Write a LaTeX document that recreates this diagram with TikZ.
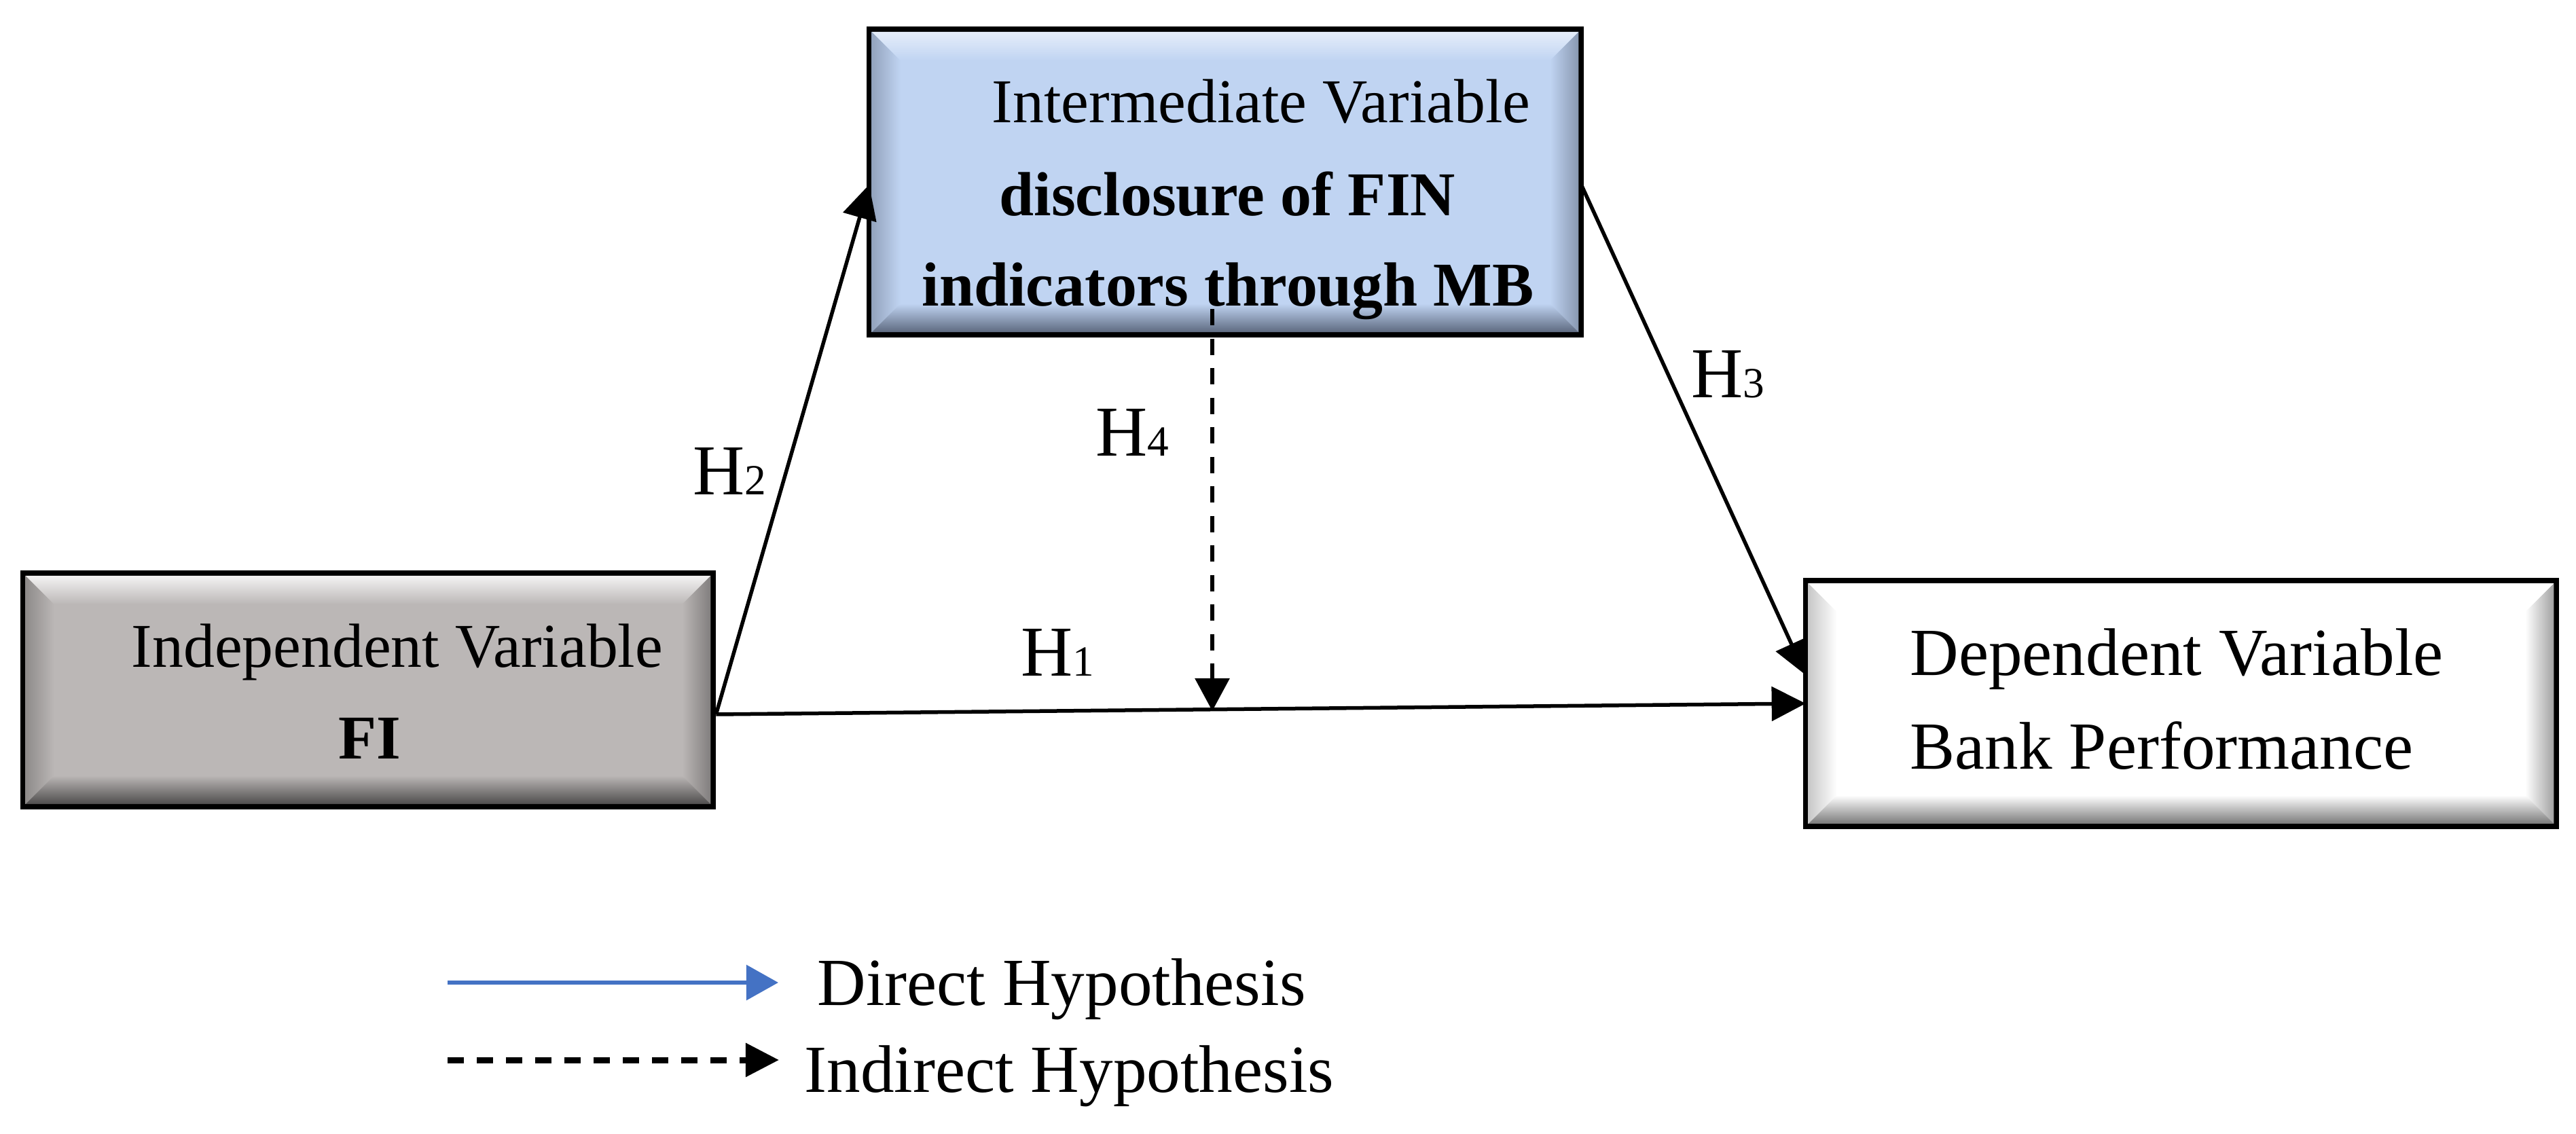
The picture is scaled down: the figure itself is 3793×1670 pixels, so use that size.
\documentclass[tikz,border=0pt]{standalone}
\usepackage{fontspec}
\setmainfont{Liberation Serif}
\usetikzlibrary{arrows.meta,calc}

\definecolor{grayfill}{HTML}{BBB7B6}
\definecolor{graylight}{HTML}{F4F3F3}
\definecolor{grayleft}{HTML}{8E8B8A}
\definecolor{graydark}{HTML}{4F4D4D}
\definecolor{bluefill}{HTML}{C0D4F2}
\definecolor{bluelight}{HTML}{E6EEFA}
\definecolor{blueleft}{HTML}{93A3BD}
\definecolor{bluedark}{HTML}{5E6A80}
\definecolor{whitefill}{HTML}{FFFFFF}
\definecolor{whitelight}{HTML}{FFFFFF}
\definecolor{whiteleft}{HTML}{C8C8C8}
\definecolor{whitedark}{HTML}{7A7A7A}
\definecolor{legendblue}{HTML}{4472C4}

\newcommand{\bw}{42}
\newcommand{\drawbevel}[6]{%
  \coordinate (#1-a) at ($(#1.north west)+(4,4)$);
  \coordinate (#1-b) at ($(#1.north east)+(-4,4)$);
  \coordinate (#1-c) at ($(#1.south east)+(-4,-4)$);
  \coordinate (#1-d) at ($(#1.south west)+(4,-4)$);
  \coordinate (#1-A) at ($(#1-a)+(\bw,\bw)$);
  \coordinate (#1-B) at ($(#1-b)+(-\bw,\bw)$);
  \coordinate (#1-C) at ($(#1-c)+(-\bw,-\bw)$);
  \coordinate (#1-D) at ($(#1-d)+(\bw,-\bw)$);
  \shade[left color=#4, right color=#2] (#1-a) -- (#1-A) -- (#1-D) -- (#1-d) -- cycle;
  \shade[left color=#2, right color=#5] (#1-b) -- (#1-B) -- (#1-C) -- (#1-c) -- cycle;
  \shade[top color=#3, bottom color=#2] (#1-a) -- (#1-b) -- (#1-B) -- (#1-A) -- cycle;
  \shade[top color=#2, bottom color=#6] (#1-d) -- (#1-c) -- (#1-C) -- (#1-D) -- cycle;
}

\tikzset{
  varbox/.style={rectangle, draw=black, line width=0.08cm, inner sep=0pt, outer sep=0pt},
  txtA/.style={anchor=base west, inner sep=0pt, font=\fontsize{26.1}{30}\selectfont},
  txtB/.style={anchor=base west, inner sep=0pt, font=\fontsize{28.2}{32}\selectfont},
  hlab/.style={anchor=base west, inner sep=0pt, font=\fontsize{30}{34}\selectfont},
  conn/.style={line width=0.055cm, -{Triangle[length=0.5cm,width=0.5cm]}},
  dashconn/.style={line width=0.06cm, dash pattern=on 0.24cm off 0.195cm, -{Triangle[length=0.48cm,width=0.5cm]}},
}
\newcommand{\hsub}[1]{{\fontsize{18}{20}\selectfont #1}}

\begin{document}
\begin{tikzpicture}[x=0.01cm, y=-0.01cm]
\useasboundingbox (0,0) rectangle (3793,1670);
\fill[white] (0,0) rectangle (3793,1670);

% boxes
\node[varbox, fill=grayfill, minimum width=10.16cm, minimum height=3.44cm] (iv) at (542,1016) {};
\drawbevel{iv}{grayfill}{graylight}{grayleft}{grayleft!80!graydark}{graydark}
\node[varbox, fill=bluefill, minimum width=10.48cm, minimum height=4.50cm] (mv) at (1804,268) {};
\drawbevel{mv}{bluefill}{bluelight}{blueleft}{blueleft!80!bluedark}{bluedark}
\node[varbox, fill=whitefill, minimum width=11.05cm, minimum height=3.62cm] (dv) at (3211.5,1036) {};
\drawbevel{dv}{whitefill}{whitelight}{whiteleft}{whitedark!70!white}{whitedark}

% box texts
\node[txtA] (ivt1) at (193,982) {Independent Variable};
\node[txtA] (ivt2) at (498,1117) {\textbf{FI}};
\node[txtA] (mvt1) at (1460,181) {Intermediate Variable};
\node[txtA] (mvt2) at (1471,318) {\textbf{disclosure of FIN}};
\node[txtA] (mvt3) at (1357,451) {\textbf{indicators through MB}};
\node[txtB] (dvt1) at (2812,994) {Dependent Variable};
\node[txtB] (dvt2) at (2812,1132) {Bank Performance};

% connectors
\coordinate (ivout) at ([shift={(4,36)}]iv.east);
\draw[conn] (ivout) -- (dv.west);
\draw[conn] (ivout) -- ([shift={(0,4)}]mv.west);
\draw[conn] ([shift={(0,4)}]mv.east) -- ([shift={(0,-42)}]dv.west);
\coordinate (h4a) at ($(mv.south)+(-19,-38)$);
\coordinate (h4b) at (1785,1047);
\draw[dashconn] (h4a) -- (h4b);

% hypothesis labels
\node[hlab] (h1) at (1503,995) {H\hsub{1}};
\node[hlab] (h2) at (1020,728) {H\hsub{2}};
\node[hlab] (h3) at (2490,585) {H\hsub{3}};
\node[hlab] (h4) at (1613,671) {H\hsub{4}};

% legend
\coordinate (lg1a) at (659,1447);
\coordinate (lg1b) at (1146,1447);
\coordinate (lg2a) at (659,1561);
\coordinate (lg2b) at (1147,1561);
\draw[line width=0.06cm, legendblue, -{Triangle[length=0.47cm,width=0.51cm]}] (lg1a) -- (lg1b);
\draw[line width=0.09cm, dash pattern=on 0.24cm off 0.19cm, -{Triangle[length=0.49cm,width=0.48cm]}] (lg2a) -- (lg2b);
\node[txtB] (lgt1) at (1203,1480) {Direct Hypothesis};
\node[txtB] (lgt2) at (1184,1608) {Indirect Hypothesis};
\end{tikzpicture}
\end{document}
